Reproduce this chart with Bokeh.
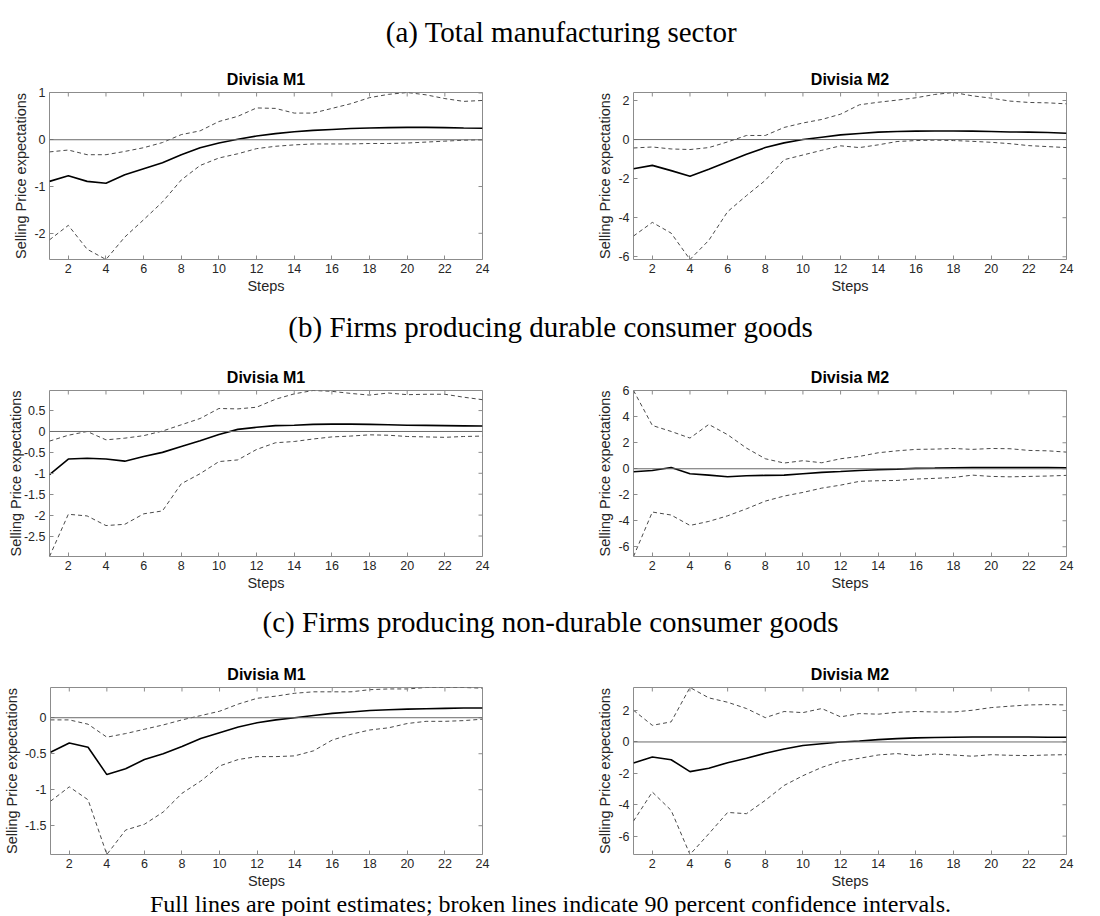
import math

from bokeh.plotting import figure
from bokeh.layouts import column, row
from bokeh.models import Range1d, FixedTicker, Span, CustomJSTickFormatter
from bokeh.embed import file_html
from bokeh.resources import INLINE
from bokeh.core.properties import value

# Impulse-response horizon (months)
steps = [1, 2, 3, 4, 5, 6, 7, 8, 9, 10, 11, 12,
         13, 14, 15, 16, 17, 18, 19, 20, 21, 22, 23, 24]
x_ticks = [2, 4, 6, 8, 10, 12, 14, 16, 18, 20, 22, 24]

# (a) Total manufacturing sector
a_m1_point = [-0.89, -0.77, -0.89, -0.93, -0.75, -0.62, -0.49, -0.32, -0.17, -0.07, 0.01, 0.08,
              0.13, 0.17, 0.20, 0.22, 0.24, 0.25, 0.26, 0.265, 0.265, 0.26, 0.25, 0.245]
a_m1_upper = [-0.26, -0.22, -0.32, -0.32, -0.25, -0.17, -0.06, 0.11, 0.19, 0.39, 0.50, 0.68,
              0.67, 0.57, 0.57, 0.67, 0.77, 0.90, 0.97, 1.01, 0.96, 0.88, 0.82, 0.84]
a_m1_lower = [-2.14, -1.83, -2.34, -2.56, -2.08, -1.71, -1.33, -0.86, -0.55, -0.39, -0.30, -0.19,
              -0.14, -0.11, -0.09, -0.09, -0.09, -0.08, -0.08, -0.07, -0.05, -0.03, -0.01, 0.0]
a_m1_ticks = [-2, -1, 0, 1]

a_m2_point = [-1.49, -1.32, -1.59, -1.88, -1.52, -1.13, -0.75, -0.41, -0.17, 0.0, 0.12, 0.24,
              0.31, 0.38, 0.41, 0.43, 0.44, 0.44, 0.43, 0.41, 0.39, 0.38, 0.36, 0.32]
a_m2_upper = [-0.43, -0.38, -0.48, -0.51, -0.41, -0.12, 0.21, 0.21, 0.62, 0.85, 1.03, 1.30,
              1.78, 1.91, 2.02, 2.14, 2.31, 2.41, 2.24, 2.12, 1.97, 1.90, 1.88, 1.83]
a_m2_lower = [-4.94, -4.24, -4.79, -6.14, -5.16, -3.69, -2.87, -2.09, -1.03, -0.79, -0.55, -0.32,
              -0.41, -0.27, -0.10, -0.05, -0.03, -0.05, -0.09, -0.14, -0.21, -0.31, -0.36, -0.41]
a_m2_ticks = [-6, -4, -2, 0, 2]

# (b) Firms producing durable consumer goods
b_m1_point = [-1.03, -0.66, -0.64, -0.66, -0.71, -0.60, -0.50, -0.36, -0.22, -0.07, 0.05, 0.10,
              0.14, 0.15, 0.17, 0.175, 0.175, 0.17, 0.16, 0.15, 0.145, 0.14, 0.135, 0.13]
b_m1_upper = [-0.23, -0.09, 0.0, -0.20, -0.16, -0.10, 0.01, 0.16, 0.31, 0.55, 0.54, 0.58,
              0.77, 0.90, 0.98, 0.96, 0.91, 0.87, 0.92, 0.88, 0.89, 0.89, 0.82, 0.76]
b_m1_lower = [-2.99, -1.98, -2.02, -2.25, -2.22, -1.97, -1.90, -1.25, -1.01, -0.72, -0.68, -0.43,
              -0.27, -0.24, -0.18, -0.13, -0.11, -0.08, -0.09, -0.12, -0.13, -0.14, -0.12, -0.11]
b_m1_ticks = [-2.5, -2, -1.5, -1, -0.5, 0, 0.5]

b_m2_point = [-0.23, -0.13, 0.10, -0.38, -0.49, -0.62, -0.54, -0.51, -0.49, -0.38, -0.28, -0.21,
              -0.13, -0.08, -0.03, 0.03, 0.05, 0.08, 0.10, 0.10, 0.10, 0.10, 0.10, 0.08]
b_m2_upper = [6.02, 3.33, 2.87, 2.36, 3.41, 2.62, 1.59, 0.77, 0.44, 0.62, 0.46, 0.77,
              0.95, 1.23, 1.38, 1.49, 1.51, 1.56, 1.49, 1.56, 1.54, 1.41, 1.38, 1.28]
b_m2_lower = [-6.75, -3.33, -3.56, -4.36, -4.05, -3.62, -3.08, -2.49, -2.10, -1.82, -1.49, -1.26,
              -0.97, -0.92, -0.90, -0.79, -0.74, -0.67, -0.49, -0.59, -0.62, -0.59, -0.56, -0.51]
b_m2_ticks = [-6, -4, -2, 0, 2, 4, 6]

# (c) Firms producing non-durable consumer goods
c_m1_point = [-0.48, -0.35, -0.41, -0.79, -0.71, -0.58, -0.50, -0.40, -0.29, -0.21, -0.13, -0.07,
              -0.03, 0.0, 0.03, 0.06, 0.08, 0.10, 0.11, 0.12, 0.125, 0.13, 0.135, 0.135]
c_m1_upper = [-0.03, -0.03, -0.09, -0.27, -0.22, -0.16, -0.10, -0.03, 0.03, 0.09, 0.19, 0.27,
              0.30, 0.34, 0.36, 0.36, 0.36, 0.39, 0.40, 0.40, 0.42, 0.42, 0.42, 0.41]
c_m1_lower = [-1.16, -0.96, -1.14, -1.90, -1.56, -1.48, -1.31, -1.05, -0.88, -0.67, -0.58, -0.54,
              -0.54, -0.53, -0.46, -0.31, -0.23, -0.17, -0.14, -0.08, -0.05, -0.05, -0.04, -0.02]
c_m1_ticks = [-1.5, -1, -0.5, 0]

c_m2_point = [-1.34, -0.96, -1.13, -1.89, -1.68, -1.32, -1.04, -0.72, -0.45, -0.23, -0.11, 0.0,
              0.06, 0.15, 0.21, 0.26, 0.28, 0.30, 0.32, 0.32, 0.32, 0.32, 0.30, 0.30]
c_m2_upper = [2.02, 1.06, 1.28, 3.47, 2.81, 2.53, 2.13, 1.55, 1.94, 1.87, 2.13, 1.60,
              1.81, 1.77, 1.89, 1.94, 1.91, 1.91, 2.02, 2.19, 2.28, 2.36, 2.38, 2.36]
c_m2_lower = [-5.04, -3.19, -4.36, -7.17, -5.85, -4.49, -4.57, -3.72, -2.77, -2.15, -1.62, -1.23,
              -1.04, -0.83, -0.74, -0.87, -0.77, -0.83, -0.91, -0.81, -0.85, -0.87, -0.83, -0.81]
c_m2_ticks = [-6, -4, -2, 0, 2]

SANS = "Liberation Sans"
SERIF = "Liberation Serif"
FRAME = "#8c8c8c"
TEXT = "#262626"
BAND = "#4a4a4a"
ZERO = "#6a6a6a"


def style_axis(ax, ticks, label, label_standoff):
    ax.ticker = FixedTicker(ticks=ticks)
    ax.formatter = CustomJSTickFormatter(code="return String(tick);")
    ax.axis_line_color = None
    ax.major_tick_line_color = FRAME
    ax.major_tick_in = 4
    ax.major_tick_out = 0
    ax.minor_tick_line_color = None
    ax.major_label_text_font = SANS
    ax.major_label_text_font_size = "12.5px"
    ax.major_label_text_color = TEXT
    ax.major_label_standoff = 4
    ax.axis_label = label
    ax.axis_label_text_font = SANS
    ax.axis_label_text_font_size = "14.5px"
    ax.axis_label_text_font_style = "normal"
    ax.axis_label_text_color = TEXT
    ax.axis_label_standoff = label_standoff


def irf_panel(name, point, upper, lower, yticks, height, left, right, bottom, ylabel_standoff=2):
    y_lo, y_hi = min(lower), max(upper)
    p = figure(width=550, height=height, title=name,
               x_range=Range1d(steps[0], steps[-1]),
               y_range=Range1d(y_lo, y_hi),
               min_border_left=left, min_border_right=right,
               min_border_top=30, min_border_bottom=bottom,
               output_backend="svg", toolbar_location=None)
    p.grid.visible = False
    p.outline_line_color = FRAME
    p.outline_line_width = 1

    p.add_layout(Span(location=0, dimension="width", line_color=ZERO, line_width=1))
    p.line(steps, upper, line_color=BAND, line_width=1, line_dash="4 3")
    p.line(steps, lower, line_color=BAND, line_width=1, line_dash="4 3")
    p.line(steps, point, line_color="black", line_width=1.6)

    # inward tick marks on the top and right edges of the box (half of each dash
    # falls outside the frame and is clipped away)
    p.scatter(x=x_ticks, y=[y_hi] * len(x_ticks), marker="dash", size=8,
              angle=math.pi / 2, line_color=FRAME, line_width=1)
    p.scatter(x=[steps[-1]] * len(yticks), y=yticks, marker="dash", size=8,
              line_color=FRAME, line_width=1)

    style_axis(p.below[0], x_ticks, "Steps", 2)
    style_axis(p.left[0], yticks, "Selling Price expectations", ylabel_standoff)

    p.title.align = "center"
    p.title.text_font = SANS
    p.title.text_font_style = "bold"
    p.title.text_font_size = "16px"
    p.title.text_color = "black"
    p.title.standoff = 10
    return p


def heading(text, height, center_y, size, center_x=550):
    h = figure(width=1100, height=height,
               x_range=Range1d(0, 1100), y_range=Range1d(0, height),
               x_axis_type=None, y_axis_type=None, min_border=0,
               output_backend="svg", toolbar_location=None)
    h.outline_line_color = None
    h.text(x=[center_x], y=[center_y], text=[text],
           text_align="center", text_baseline="middle",
           text_font=value(SERIF), text_font_size=value(size), text_color="black")
    return h


head_a = heading("(a) Total manufacturing sector", 62, 31, "29px", center_x=561)
row_a = row(
    irf_panel("Divisia M1", a_m1_point, a_m1_upper, a_m1_lower, a_m1_ticks, 238, 49, 68, 41),
    irf_panel("Divisia M2", a_m2_point, a_m2_upper, a_m2_lower, a_m2_ticks, 238, 83, 34, 41),
)
head_b = heading("(b) Firms producing durable consumer goods", 60, 34, "29px")
row_b = row(
    irf_panel("Divisia M1", b_m1_point, b_m1_upper, b_m1_lower, b_m1_ticks, 237, 49, 68, 41,
              ylabel_standoff=-3),
    irf_panel("Divisia M2", b_m2_point, b_m2_upper, b_m2_lower, b_m2_ticks, 237, 83, 34, 41),
)
head_c = heading("(c) Firms producing non-durable consumer goods", 60, 36, "29px")
row_c = row(
    irf_panel("Divisia M1", c_m1_point, c_m1_upper, c_m1_lower, c_m1_ticks, 235, 49, 68, 38),
    irf_panel("Divisia M2", c_m2_point, c_m2_upper, c_m2_lower, c_m2_ticks, 235, 83, 34, 38),
)
note = heading("Full lines are point estimates; broken lines indicate 90 percent confidence intervals.",
               24, 13, "24px")

page = column(head_a, row_a, head_b, row_b, head_c, row_c, note, spacing=0)

open("out.html", "w").write(file_html(page, INLINE))
